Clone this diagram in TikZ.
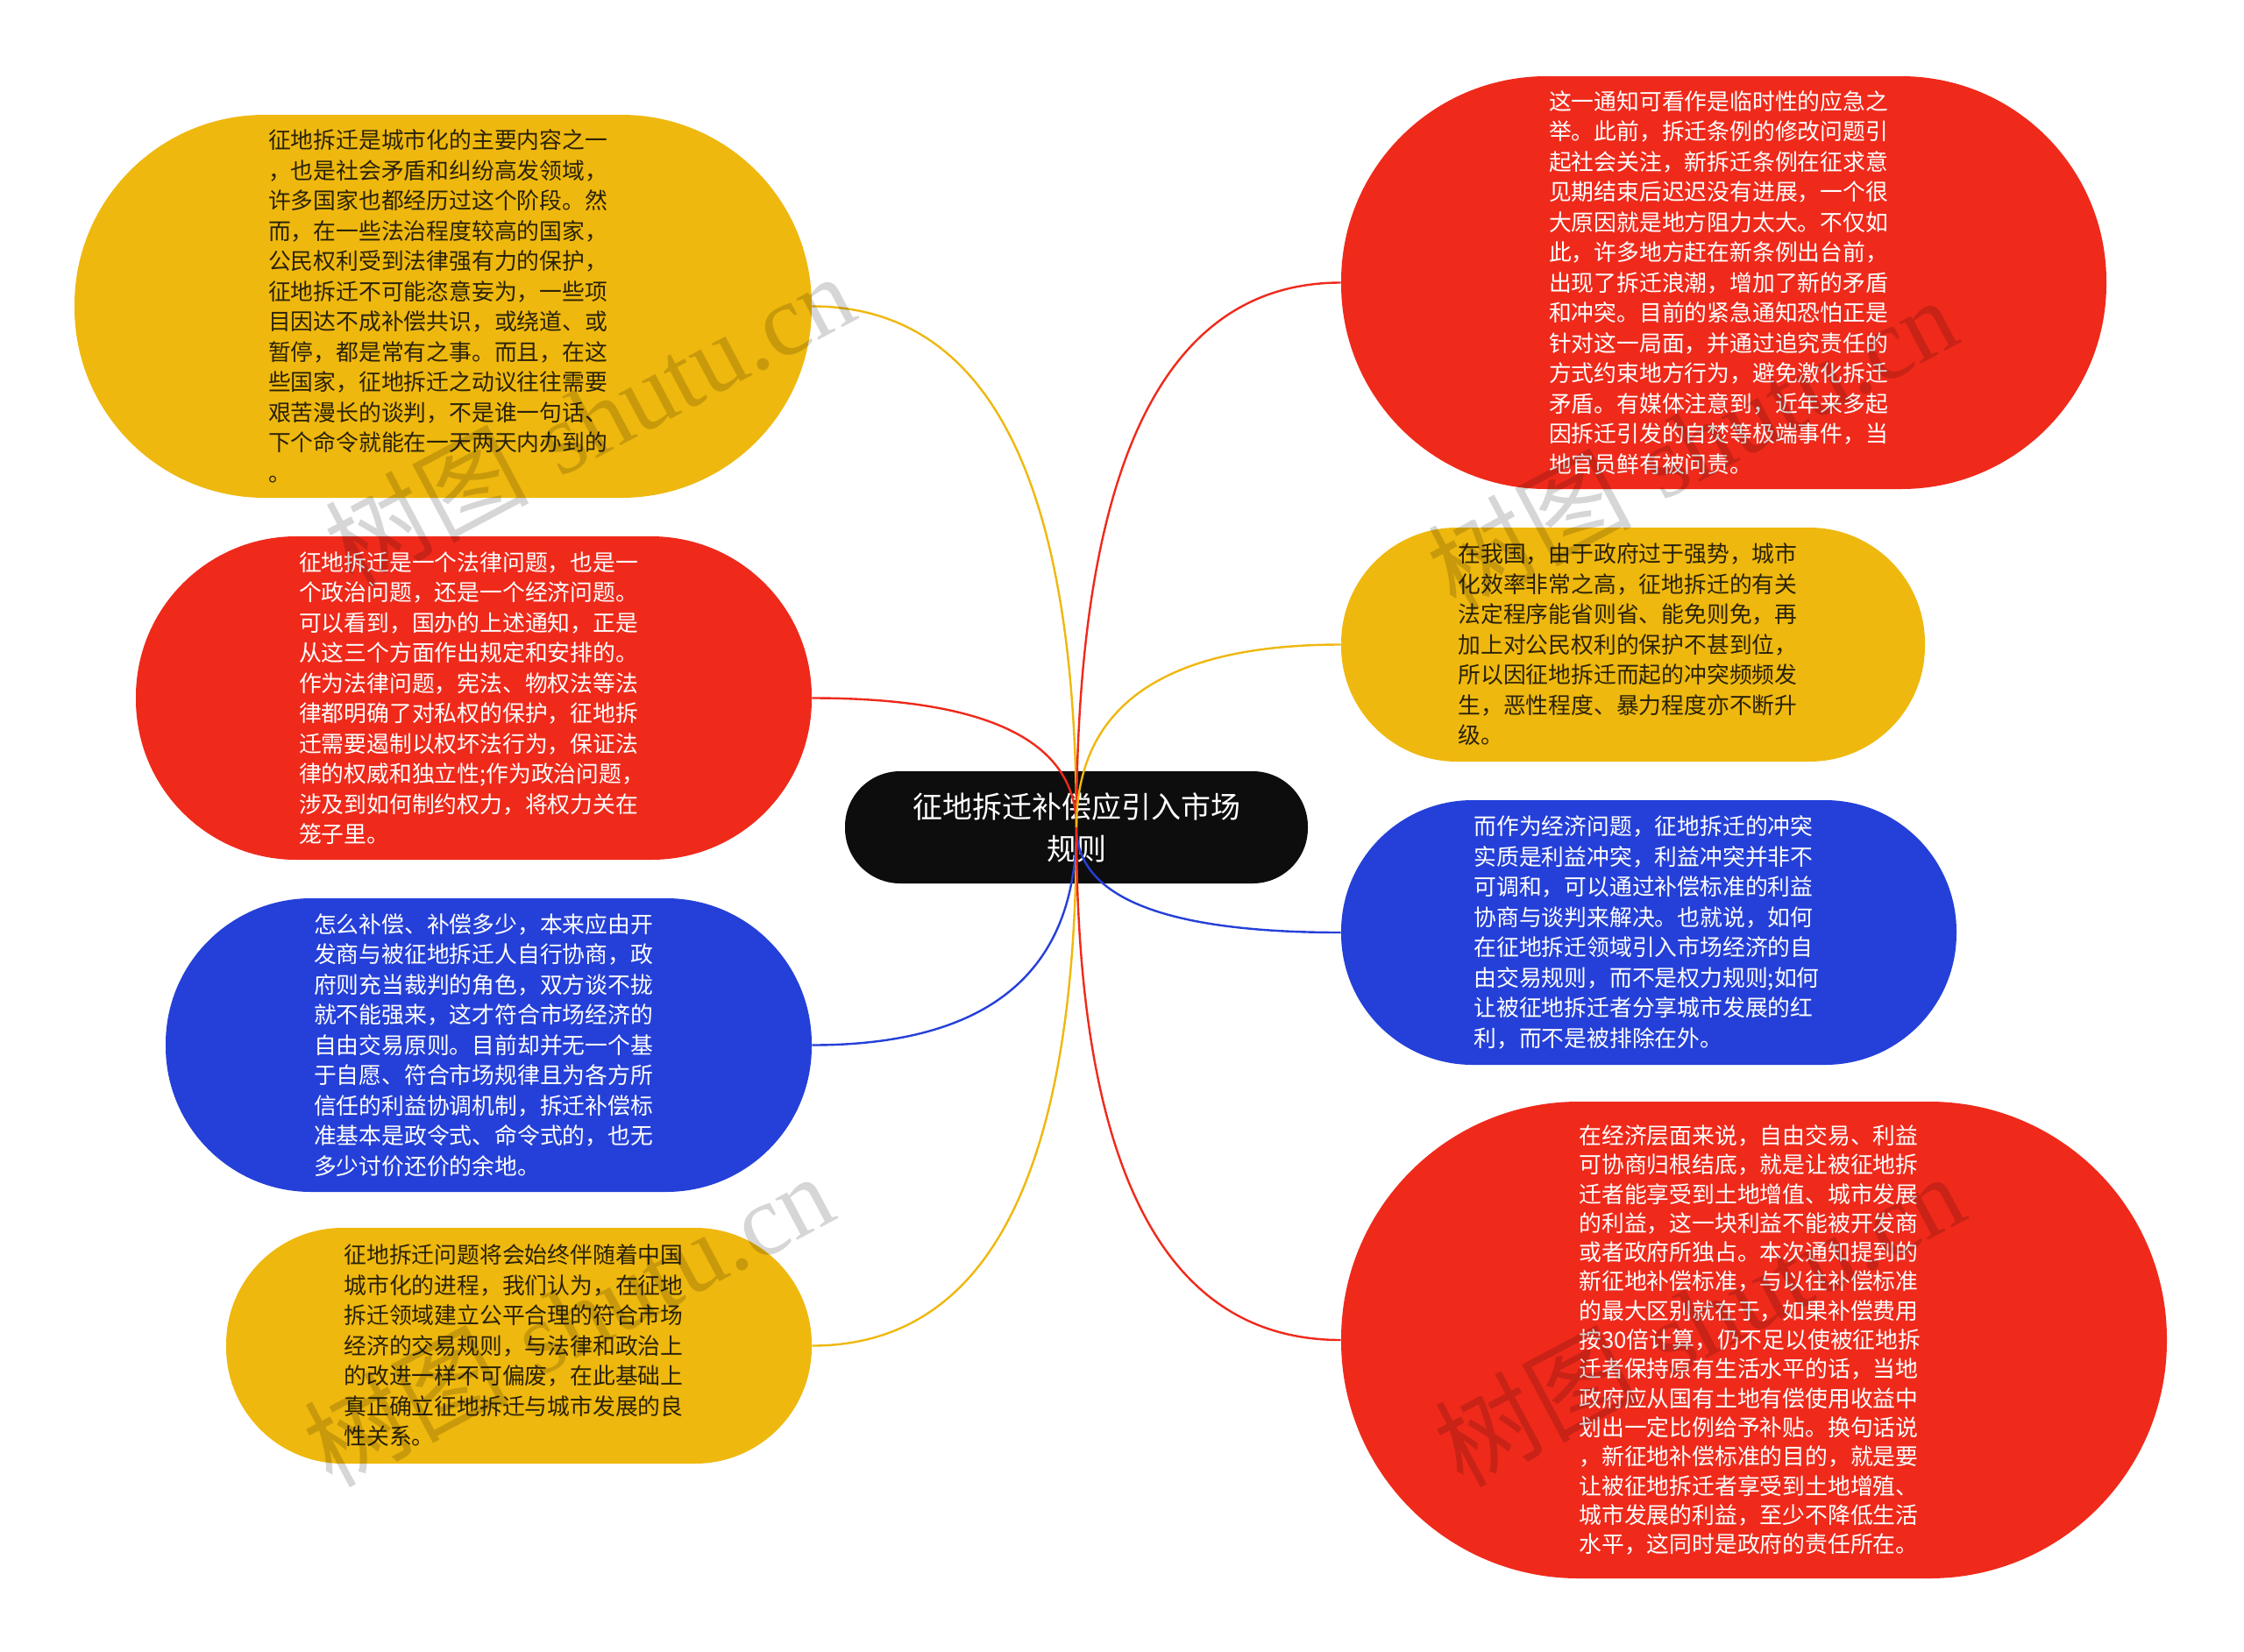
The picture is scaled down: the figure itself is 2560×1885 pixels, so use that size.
\documentclass[tikz,border=0pt]{standalone}
\usepackage{fontspec}
\newfontfamily\cjk{Noto Sans CJK SC}
\newfontfamily\wmlat{Liberation Serif}
\usetikzlibrary{calc}
\definecolor{myyellow}{HTML}{EFB80E}
\definecolor{myred}{HTML}{EF2A1B}
\definecolor{myblue}{HTML}{2540D8}
\definecolor{myblack}{HTML}{0D0D0D}
\definecolor{darktext}{HTML}{2A2208}
\newcommand\mmlink[3]{%
  \draw[#1, line width=1.2pt] (#2) .. controls ($(#2)!0.667!(#2 |- #3)$) and ($(#3)!0.667!(#2 |- #3)$) .. (#3);}
\tikzset{
  bubble/.style={inner sep=0pt, align=left, text width=199.5pt, font=\cjk\fontsize{12.9pt}{17.25pt}\selectfont},
  ybub/.style={bubble, fill=myyellow, text=darktext},
  rbub/.style={bubble, fill=myred, text=white},
  bbub/.style={bubble, fill=myblue, text=white},
  wmark/.style={rotate=28, text=black, text opacity=0.16, font=\fontsize{58pt}{60pt}\selectfont, inner sep=0pt}
}
\begin{document}
\begin{tikzpicture}[x=0.5pt, y=-0.5pt]
\useasboundingbox (0,0) rectangle (2560,1885);
\fill[white] (0,0) rectangle (2560,1885);

\node[fill=myblack, text=white, rounded corners=31.5pt, minimum width=264pt, minimum height=64pt, inner sep=0pt, align=center, font=\cjk\fontsize{17pt}{24pt}\selectfont] (ctr) at (1228,944) {征地拆迁补偿应引入市场\\规则};

\node[ybub, minimum width=420.5pt, minimum height=218.5pt, rounded corners=108.5pt] (l1) at (505.5,349.5) {征地拆迁是城市化的主要内容之一\\，也是社会矛盾和纠纷高发领域，\\许多国家也都经历过这个阶段。然\\而，在一些法治程度较高的国家，\\公民权利受到法律强有力的保护，\\征地拆迁不可能恣意妄为，一些项\\目因达不成补偿共识，或绕道、或\\暂停，都是常有之事。而且，在这\\些国家，征地拆迁之动议往往需要\\艰苦漫长的谈判，不是谁一句话、\\下个命令就能在一天两天内办到的\\。};

\node[rbub, minimum width=385.5pt, minimum height=184.5pt, rounded corners=91.5pt] (l2) at (540.5,796.5) {征地拆迁是一个法律问题，也是一\\个政治问题，还是一个经济问题。\\可以看到，国办的上述通知，正是\\从这三个方面作出规定和安排的。\\作为法律问题，宪法、物权法等法\\律都明确了对私权的保护，征地拆\\迁需要遏制以权坏法行为，保证法\\律的权威和独立性;作为政治问题，\\涉及到如何制约权力，将权力关在\\笼子里。};

\node[bbub, minimum width=368.5pt, minimum height=167.5pt, rounded corners=83pt] (l3) at (557.5,1192.5) {怎么补偿、补偿多少，本来应由开\\发商与被征地拆迁人自行协商，政\\府则充当裁判的角色，双方谈不拢\\就不能强来，这才符合市场经济的\\自由交易原则。目前却并无一个基\\于自愿、符合市场规律且为各方所\\信任的利益协调机制，拆迁补偿标\\准基本是政令式、命令式的，也无\\多少讨价还价的余地。};

\node[ybub, minimum width=334pt, minimum height=134.5pt, rounded corners=66.5pt] (l4) at (592,1535.5) {征地拆迁问题将会始终伴随着中国\\城市化的进程，我们认为，在征地\\拆迁领域建立公平合理的符合市场\\经济的交易规则，与法律和政治上\\的改进一样不可偏废，在此基础上\\真正确立征地拆迁与城市发展的良\\性关系。};

\node[rbub, minimum width=436.5pt, minimum height=235.5pt, rounded corners=117pt] (r1) at (1966.5,322.5) {这一通知可看作是临时性的应急之\\举。此前，拆迁条例的修改问题引\\起社会关注，新拆迁条例在征求意\\见期结束后迟迟没有进展，一个很\\大原因就是地方阻力太大。不仅如\\此，许多地方赶在新条例出台前，\\出现了拆迁浪潮，增加了新的矛盾\\和冲突。目前的紧急通知恐怕正是\\针对这一局面，并通过追究责任的\\方式约束地方行为，避免激化拆迁\\矛盾。有媒体注意到，近年来多起\\因拆迁引发的自焚等极端事件，当\\地官员鲜有被问责。};

\node[ybub, minimum width=333pt, minimum height=133.5pt, rounded corners=66pt] (r2) at (1863,735.5) {在我国，由于政府过于强势，城市\\化效率非常之高，征地拆迁的有关\\法定程序能省则省、能免则免，再\\加上对公民权利的保护不甚到位，\\所以因征地拆迁而起的冲突频频发\\生，恶性程度、暴力程度亦不断升\\级。};

\node[bbub, minimum width=351pt, minimum height=151pt, rounded corners=75pt] (r3) at (1881,1064) {而作为经济问题，征地拆迁的冲突\\实质是利益冲突，利益冲突并非不\\可调和，可以通过补偿标准的利益\\协商与谈判来解决。也就说，如何\\在征地拆迁领域引入市场经济的自\\由交易规则，而不是权力规则;如何\\让被征地拆迁者分享城市发展的红\\利，而不是被排除在外。};

\node[rbub, minimum width=471pt, minimum height=272pt, rounded corners=135.5pt, font=\cjk\fontsize{12.9pt}{16.65pt}\selectfont] (r4) at (2001,1529) {在经济层面来说，自由交易、利益\\可协商归根结底，就是让被征地拆\\迁者能享受到土地增值、城市发展\\的利益，这一块利益不能被开发商\\或者政府所独占。本次通知提到的\\新征地补偿标准，与以往补偿标准\\的最大区别就在于，如果补偿费用\\按30倍计算，仍不足以使被征地拆\\迁者保持原有生活水平的话，当地\\政府应从国有土地有偿使用收益中\\划出一定比例给予补贴。换句话说\\，新征地补偿标准的目的，就是要\\让被征地拆迁者享受到土地增殖、\\城市发展的利益，至少不降低生活\\水平，这同时是政府的责任所在。};

\mmlink{myyellow}{ctr.center}{l1.east}
\mmlink{myred}{ctr.center}{l2.east}
\mmlink{myblue}{ctr.center}{l3.east}
\mmlink{myyellow}{ctr.center}{l4.east}
\mmlink{myred}{ctr.center}{r1.west}
\mmlink{myyellow}{ctr.center}{r2.west}
\mmlink{myblue}{ctr.center}{r3.west}
\mmlink{myred}{ctr.center}{r4.west}

\node[wmark] (w1) at (672,478) {{\cjk 树图} {\wmlat shutu.cn}};
\node[wmark] (w2) at (648,1505) {{\cjk 树图} {\wmlat shutu.cn}};
\node[wmark] (w3) at (1930,505) {{\cjk 树图} {\wmlat shutu.cn}};
\node[wmark] (w4) at (1938,1505) {{\cjk 树图} {\wmlat shutu.cn}};
\end{tikzpicture}
\end{document}
